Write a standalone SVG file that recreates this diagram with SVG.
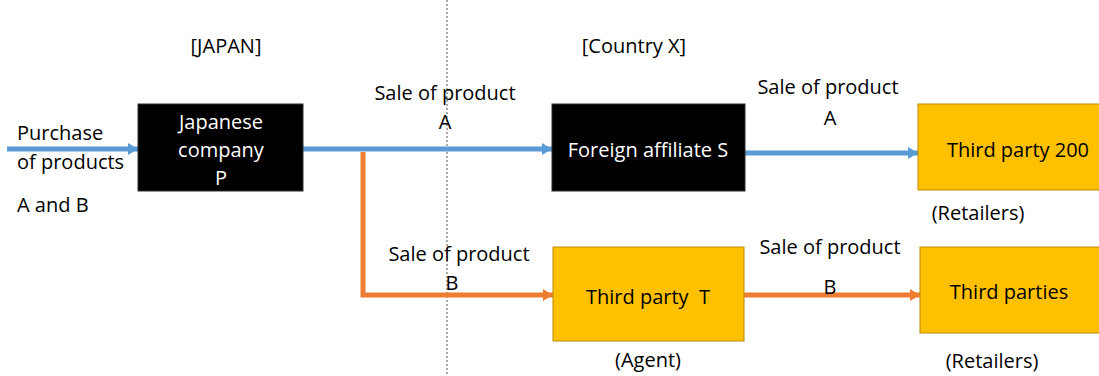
<svg xmlns="http://www.w3.org/2000/svg" width="1099" height="376" viewBox="0 0 1099 376">
<style>
text{font-family:"Open Sans","Liberation Sans",sans-serif;font-size:20px;fill:#000;text-anchor:middle}
.w{fill:#fff}
.s{text-anchor:start}
.blk{fill:#000;stroke:#2f2f2f;stroke-width:1}
.yel{fill:#FFC000;stroke:#BC8C00;stroke-width:1}
.bl{stroke:#5B9BD5;stroke-width:5;fill:none}
.or{stroke:#ED7D31;stroke-width:5;fill:none}
</style>
<defs>
<marker id="mb" markerUnits="userSpaceOnUse" markerWidth="12" markerHeight="14" refX="10" refY="7" orient="auto"><path d="M0,1 L10,7 L0,13 Z" fill="#5B9BD5"/></marker>
<marker id="mo" markerUnits="userSpaceOnUse" markerWidth="12" markerHeight="14" refX="10" refY="7" orient="auto"><path d="M0,1 L10,7 L0,13 Z" fill="#ED7D31"/></marker>
</defs>
<line x1="447" y1="0" x2="447" y2="376" stroke="#555" stroke-width="1" stroke-dasharray="2,2"/>
<text x="226" y="53">[JAPAN]</text>
<text x="634" y="53">[Country X]</text>
<g id="connectors">
<line class="bl" x1="7" y1="149" x2="138" y2="149" marker-end="url(#mb)"/>
<line class="bl" x1="303" y1="149" x2="552" y2="149" marker-end="url(#mb)"/>
<line class="bl" x1="745" y1="153" x2="918" y2="153" marker-end="url(#mb)"/>
<polyline class="or" points="363,152 363,295 553,295" marker-end="url(#mo)"/>
<line class="or" x1="744" y1="295" x2="920" y2="295" marker-end="url(#mo)"/>
<text class="s" x="17" y="140">Purchase</text>
<text class="s" x="17" y="169">of products</text>
<text class="s" x="17" y="212">A and B</text>
<text x="445" y="100">Sale of product</text>
<text x="445" y="129">A</text>
<text x="828" y="94">Sale of product</text>
<text x="830" y="125">A</text>
<text x="459" y="261">Sale of product</text>
<text x="452" y="290">B</text>
<text x="830" y="254">Sale of product</text>
<text x="830" y="294">B</text>
</g>
<g id="nodeP">
<rect class="blk" x="138" y="104" width="165" height="87"/>
<text class="w" x="221" y="129">Japanese</text>
<text class="w" x="221" y="157">company</text>
<text class="w" x="221" y="185">P</text>
</g>
<g id="nodeS">
<rect class="blk" x="552" y="104" width="193" height="87"/>
<text class="w" x="648" y="157">Foreign affiliate S</text>
</g>
<g id="node200">
<rect class="yel" x="918" y="104" width="190" height="86"/>
<text x="1018" y="157">Third party 200</text>
<text x="978" y="220">(Retailers)</text>
</g>
<g id="nodeT">
<rect class="yel" x="553" y="247" width="191" height="94"/>
<text x="648" y="304" xml:space="preserve">Third party  T</text>
<text x="648" y="367">(Agent)</text>
</g>
<g id="nodeParties">
<rect class="yel" x="920" y="247" width="190" height="86"/>
<text x="1009" y="299">Third parties</text>
<text x="992" y="368">(Retailers)</text>
</g>
</svg>
